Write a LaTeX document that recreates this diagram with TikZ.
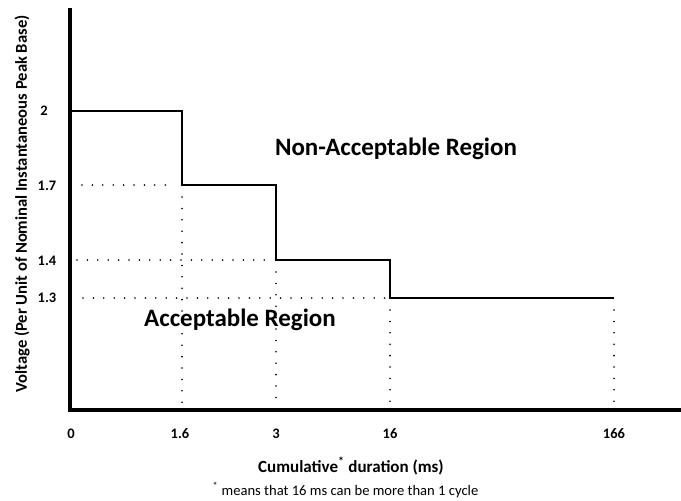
\documentclass[tikz,border=0pt]{standalone}
\usepackage{fontspec}
\setmainfont{Carlito}
\begin{document}
\begin{tikzpicture}[x=1pt,y=-1pt,
  axis/.style={line width=4pt},
  curve/.style={line width=2.6pt},
  dots/.style={line width=1.8pt, line cap=round, dash pattern=on 0pt off 10.4pt},
  vdots/.style={line width=1.8pt, line cap=round, dash pattern=on 0pt off 11.4pt},
  tick/.style={font=\bfseries\fontsize{14.5}{17}\selectfont, inner sep=0pt},
  region/.style={font=\bfseries\fontsize{25}{30}\selectfont, inner sep=0pt}]
\useasboundingbox (0,0) rectangle (681,501);
% axes
\coordinate (O) at (70,410);
\coordinate (ytop) at (70,8);
\coordinate (xend) at (681,410);
\draw[axis] (ytop) -- (O) -- (xend);
% step curve
\coordinate (p0) at (70,111);
\coordinate (p1) at (182,111);
\coordinate (p2) at (182,185);
\coordinate (p3) at (276,185);
\coordinate (p4) at (276,260);
\coordinate (p5) at (390,260);
\coordinate (p6) at (390,298);
\coordinate (p7) at (614,298);
\draw[curve, line join=miter] (p0) -- (p1) -- (p2) -- (p3) -- (p4) -- (p5) -- (p6) -- (p7);
% dotted guides
\coordinate (h17) at (82,185);
\coordinate (h17e) at (170,185);
\coordinate (h14) at (77,260);
\coordinate (h14e) at (270,260);
\coordinate (h13) at (83,298);
\coordinate (h13e) at (386,298);
\coordinate (b1) at (182,408);
\coordinate (b2) at (276,408);
\coordinate (b3) at (390,408);
\coordinate (b4) at (614,408);
\draw[dots] (h17) -- (h17e);
\draw[dots] (h14) -- (h14e);
\draw[dots] (h13) -- (h13e);
\draw[vdots] (p2) ++(0,12) -- (b1);
\draw[vdots] (p4) ++(0,12) -- (b2);
\draw[vdots] (p6) ++(0,12) -- (b3);
\draw[vdots] (p7) ++(0,12) -- (b4);
% y tick labels
\node[tick] (y2) at (44,111) {2};
\node[tick] (y17) at (47,186) {1.7};
\node[tick] (y14) at (47,261) {1.4};
\node[tick] (y13) at (47,298) {1.3};
% x tick labels
\node[tick] (x0) at (71,434) {0};
\node[tick] (x16a) at (180,434) {1.6};
\node[tick] (x3) at (276,434) {3};
\node[tick] (x16) at (390,434) {16};
\node[tick] (x166) at (614,434) {166};
% axis titles
\node[tick, font=\bfseries\fontsize{17}{20}\selectfont] (xt) at (351,466) {Cumulative\textsuperscript{*} duration (ms)};
\node[inner sep=0pt, font=\fontsize{14.6}{17}\selectfont] (fn) at (345.5,490) {\textsuperscript{*} means that 16 ms can be more than 1 cycle};
\node[tick, rotate=90, font=\bfseries\fontsize{16.6}{19}\selectfont] (yt) at (22,204) {Voltage (Per Unit of Nominal Instantaneous Peak Base)};
% regions
\node[region] (nar) at (396,149) {Non-Acceptable Region};
\node[region] (ar) at (240,320) {Acceptable Region};
\end{tikzpicture}
\end{document}
